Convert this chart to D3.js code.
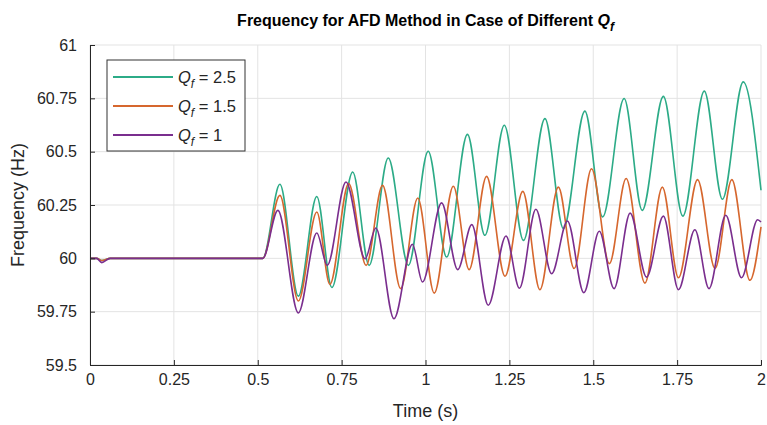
<!DOCTYPE html>
<html>
<head>
<meta charset="utf-8">
<script src="https://cdn.jsdelivr.net/npm/d3@7"></script>
<style>
  body { margin: 0; background: #fff; }
  text { font-family: "Liberation Sans", Arial, sans-serif; }
</style>
</head>
<body>
<div id="chart-container"></div>
<script>
// Data (time in s, frequency in Hz)

const seriesNames = ["2.5", "1.5", "1"];

const timeQ25 = [0, 0.02, 0.035, 0.06, 0.515, 0.566, 0.621, 0.676, 0.721, 0.783, 0.832, 0.889, 0.949, 1.008, 1.063, 1.125, 1.177, 1.235, 1.292, 1.356, 1.411, 1.475, 1.528, 1.592, 1.646, 1.709, 1.767, 1.831, 1.885, 1.947, 2.0];
const freqQ25 = [60, 60, 59.99, 60, 60, 60.347, 59.823, 60.29, 59.863, 60.405, 59.967, 60.47, 59.967, 60.502, 60.006, 60.581, 60.108, 60.624, 60.084, 60.655, 60.139, 60.69, 60.194, 60.749, 60.225, 60.759, 60.198, 60.784, 60.277, 60.827, 60.319];

const timeQ15 = [0, 0.02, 0.035, 0.06, 0.515, 0.566, 0.621, 0.676, 0.715, 0.771, 0.823, 0.872, 0.926, 0.977, 1.026, 1.083, 1.13, 1.182, 1.237, 1.29, 1.341, 1.396, 1.443, 1.495, 1.548, 1.598, 1.654, 1.706, 1.754, 1.811, 1.863, 1.913, 1.967, 2.0];
const freqQ15 = [60, 60, 59.99, 60, 60, 60.295, 59.80, 60.217, 59.878, 60.35, 59.967, 60.342, 59.858, 60.283, 59.837, 60.338, 59.947, 60.384, 59.916, 60.314, 59.853, 60.334, 59.952, 60.42, 59.975, 60.374, 59.884, 60.334, 59.909, 60.369, 59.952, 60.369, 59.897, 60.147];

const timeQ1 = [0, 0.02, 0.035, 0.06, 0.515, 0.56, 0.621, 0.676, 0.707, 0.763, 0.82, 0.852, 0.906, 0.961, 0.991, 1.048, 1.096, 1.138, 1.187, 1.24, 1.28, 1.329, 1.376, 1.423, 1.472, 1.518, 1.562, 1.61, 1.659, 1.709, 1.754, 1.803, 1.845, 1.895, 1.942, 1.99, 2.0];
const freqQ1 = [60, 60, 59.98, 60, 60, 60.225, 59.744, 60.119, 59.967, 60.358, 59.998, 60.142, 59.717, 60.066, 59.889, 60.26, 59.947, 60.158, 59.78, 60.105, 59.86, 60.23, 59.928, 60.175, 59.839, 60.127, 59.858, 60.212, 59.912, 60.198, 59.853, 60.134, 59.858, 60.202, 59.909, 60.181, 60.17];

const xTicks = [0, 0.25, 0.5, 0.75, 1, 1.25, 1.5, 1.75, 2];
const yTicks = [59.5, 59.75, 60, 60.25, 60.5, 60.75, 61];

const colors = ["#2cab87", "#d6672e", "#7a2e8e"];

// Set dimensions and margins for the chart

const margin = { top: 45, right: 6, bottom: 60, left: 90 };
const width = 767 - margin.left - margin.right;
const height = 425 - margin.top - margin.bottom;

const x = d3.scaleLinear().domain([0, 2]).range([0, width]);
const y = d3.scaleLinear().domain([59.5, 61]).range([height, 0]);

const svg = d3.select("#chart-container")
    .append("svg")
        .attr("width", width + margin.left + margin.right)
        .attr("height", height + margin.top + margin.bottom)
    .append("g")
        .attr("transform", `translate(${margin.left},${margin.top})`);

// Grid lines
svg.append("g")
    .selectAll("line")
    .data(yTicks)
    .join("line")
    .attr("x1", 0)
    .attr("x2", width)
    .attr("y1", d => y(d))
    .attr("y2", d => y(d))
    .attr("stroke", "#e3e3e3")
    .attr("stroke-width", 1);

svg.append("g")
    .selectAll("line")
    .data(xTicks)
    .join("line")
    .attr("x1", d => x(d))
    .attr("x2", d => x(d))
    .attr("y1", 0)
    .attr("y2", height)
    .attr("stroke", "#e3e3e3")
    .attr("stroke-width", 1);

// Lines
const series = [
    { name: seriesNames[0], values: timeQ25.map((t, i) => ({ t, f: freqQ25[i] })) },
    { name: seriesNames[1], values: timeQ15.map((t, i) => ({ t, f: freqQ15[i] })) },
    { name: seriesNames[2], values: timeQ1.map((t, i) => ({ t, f: freqQ1[i] })) }
];

const line = d3.line()
    .x(d => x(d.t))
    .y(d => y(d.f))
    .curve(d3.curveMonotoneX);

svg.append("g")
    .selectAll("path")
    .data(series)
    .join("path")
      .attr("fill", "none")
      .attr("stroke", (d, i) => colors[i])
      .attr("stroke-width", 1.6)
      .attr("d", d => line(d.values));

// Axes (MATLAB style: ticks pointing inward)
const xAxis = svg.append("g")
    .attr("transform", `translate(0,${height})`)
    .call(d3.axisBottom(x)
        .tickValues(xTicks)
        .tickSize(-5)
        .tickPadding(9)
        .tickFormat(d => d3.format("~g")(d)));

const yAxis = svg.append("g")
    .call(d3.axisLeft(y)
        .tickValues(yTicks)
        .tickSize(-5)
        .tickPadding(13)
        .tickFormat(d => d3.format("~g")(d)));

[xAxis, yAxis].forEach(a => {
    a.select(".domain").attr("stroke", "#262626");
    a.selectAll(".tick line").attr("stroke", "#262626");
    a.selectAll(".tick text")
        .attr("fill", "#262626")
        .style("font-size", "16px")
        .style("font-family", "'Liberation Sans', Arial, sans-serif");
});

// Axis labels
svg.append("text")
    .attr("x", width / 2)
    .attr("y", height + 52)
    .attr("text-anchor", "middle")
    .attr("fill", "#262626")
    .style("font-size", "18px")
    .text("Time (s)");

svg.append("text")
    .attr("transform", `translate(${-66},${height / 2}) rotate(-90)`)
    .attr("text-anchor", "middle")
    .attr("fill", "#262626")
    .style("font-size", "18px")
    .text("Frequency (Hz)");

// Title
const title = svg.append("text")
    .attr("x", width / 2)
    .attr("y", -19)
    .attr("text-anchor", "middle")
    .style("font-size", "16px")
    .style("font-weight", "bold")
    .attr("fill", "#000");
title.append("tspan").text("Frequency for AFD Method in Case of Different ");
title.append("tspan").style("font-style", "italic").text("Q");
title.append("tspan").style("font-style", "italic").style("font-size", "12px").attr("dy", 5).text("f");

// Legend
const legend = svg.append("g")
    .attr("transform", "translate(17,15)");

legend.append("rect")
    .attr("width", 138)
    .attr("height", 91)
    .attr("fill", "#fff")
    .attr("stroke", "#333")
    .attr("stroke-width", 1);

const rows = legend.selectAll("g.row")
    .data(series)
    .join("g")
    .attr("class", "row")
    .attr("transform", (d, i) => `translate(0,${17 + i * 29})`);

rows.append("line")
    .attr("x1", 6)
    .attr("x2", 66)
    .attr("stroke", (d, i) => colors[i])
    .attr("stroke-width", 2);

const labels = rows.append("text")
    .attr("x", 71)
    .attr("y", 6)
    .attr("fill", "#262626")
    .style("font-size", "16.5px");
labels.append("tspan").style("font-style", "italic").text("Q");
labels.append("tspan").style("font-style", "italic").style("font-size", "12px").attr("dy", 5).text("f");
labels.append("tspan").attr("dy", -5).text(d => ` = ${d.name}`);
</script>
</body>
</html>
